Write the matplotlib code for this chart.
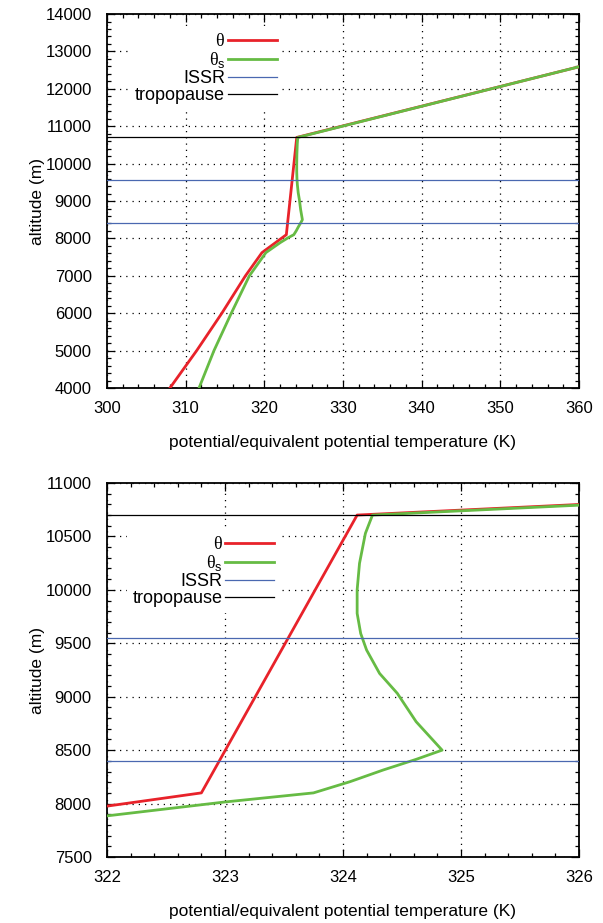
import matplotlib

matplotlib.use("Agg")
import matplotlib.pyplot as plt
from matplotlib.ticker import MultipleLocator

plt.rcParams["font.family"] = ["Liberation Sans", "DejaVu Sans"]
plt.rcParams["mathtext.fontset"] = "custom"
plt.rcParams["mathtext.rm"] = "Liberation Serif"
plt.rcParams["mathtext.sf"] = "Liberation Sans"

# potential temperature (K) vs altitude (m)
theta_T = [308.0, 311.4, 314.6, 317.6, 319.7, 322.8, 324.12, 360.0]
theta_z = [4000, 5000, 6000, 7000, 7620, 8100, 10700, 12590]

# saturation equivalent potential temperature
theta_s_T = [311.7, 313.6, 315.8, 318.1, 320.2, 322.0, 323.0, 323.75, 324.06, 324.34,
             324.62, 324.84, 324.62, 324.46, 324.31, 324.20, 324.15, 324.12, 324.12,
             324.14, 324.19, 324.25, 360.0]
theta_s_z = [4000, 5000, 6000, 7000, 7620, 7885, 8015, 8100, 8205, 8314,
             8414, 8500, 8766, 9032, 9218, 9437, 9592, 9780, 10000,
             10248, 10529, 10700, 12590]

issr_levels = [8400, 9550]
tropopause = 10700

RED = "#e8222a"
GREEN = "#66bb44"
BLUE = "#4a68b0"


def draw_panel(ax, xlim, ylim, xstep, xminor, ystep, yminor, legend_anchor):
    ax.plot(theta_T, theta_z, color=RED, lw=2.0, label=r"$\mathrm{\theta}$", zorder=3)
    ax.plot(theta_s_T, theta_s_z, color=GREEN, lw=2.0,
            label=r"$\mathrm{\theta}_\mathsf{s}$", zorder=4)
    for i, z in enumerate(issr_levels):
        ax.axhline(z, color=BLUE, lw=0.9, label="ISSR" if i == 0 else None, zorder=5)
    ax.axhline(tropopause, color="black", lw=0.9, label="tropopause", zorder=5)

    ax.set_xlim(*xlim)
    ax.set_ylim(*ylim)
    ax.xaxis.set_major_locator(MultipleLocator(xstep))
    ax.xaxis.set_minor_locator(MultipleLocator(xminor))
    ax.yaxis.set_major_locator(MultipleLocator(ystep))
    ax.yaxis.set_minor_locator(MultipleLocator(yminor))
    ax.tick_params(which="both", direction="in", top=True, right=True, labelsize=12,
                   width=0.9)
    ax.tick_params(which="major", length=6)
    ax.tick_params(which="minor", length=3)
    ax.tick_params(axis="x", pad=9)
    ax.tick_params(axis="y", pad=11)
    for sp in ax.spines.values():
        sp.set_linewidth(1.3)
    ax.grid(True, which="major", color="black", lw=0.9, linestyle=(0, (1, 4)), zorder=1)
    ax.set_axisbelow(True)

    ax.set_xlabel("potential/equivalent potential temperature (K)", fontsize=12.5,
                  labelpad=14)
    ax.set_ylabel("altitude (m)", fontsize=12.5, labelpad=0)

    leg = ax.legend(loc="upper right", bbox_to_anchor=legend_anchor, markerfirst=False,
                    frameon=True, facecolor="white", edgecolor="none", framealpha=1,
                    fancybox=False, fontsize=13, handlelength=2.7, handletextpad=0.15,
                    labelspacing=0.0, borderpad=0.3, borderaxespad=0)
    leg.set_zorder(2)


fig = plt.figure(figsize=(6.03, 9.23), dpi=100)
ax_top = fig.add_axes([0.1774, 0.5796, 0.7828, 0.4052])
ax_bot = fig.add_axes([0.1774, 0.0715, 0.7828, 0.4052])

draw_panel(ax_top, (300, 360), (4000, 14000), 10, 2, 1000, 200, (0.371, 0.963))
draw_panel(ax_bot, (322, 326), (7500, 11000), 1, 0.2, 500, 100, (0.365, 0.872))

fig.savefig("out.png", dpi=100)
